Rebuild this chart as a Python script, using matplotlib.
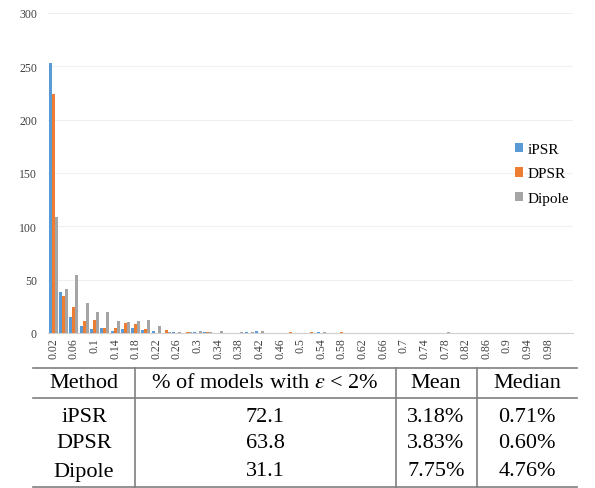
import numpy as np
import matplotlib
matplotlib.use("Agg")
import matplotlib.pyplot as plt

plt.rcParams['font.family'] = ['Liberation Serif', 'DejaVu Serif']
plt.rcParams['mathtext.fontset'] = 'stix'

# histogram bins (error upper bound)
bins = ["%g" % (0.02 * (i + 1)) for i in range(50)]

ipsr = [253, 38, 15, 7, 4, 5, 2, 4, 5, 3,
        2, 0, 1, 0, 1, 1, 0, 0, 0, 1,
        2, 0, 0, 0, 0, 0, 1, 0, 0, 0,
        0, 0, 0, 0, 0, 0, 0, 0, 0, 0,
        0, 0, 0, 0, 0, 0, 0, 0, 0, 0]
dpsr = [224, 35, 24, 11, 12, 5, 5, 9, 8, 4,
        0, 3, 0, 1, 0, 1, 0, 0, 0, 0,
        0, 0, 0, 1, 0, 1, 0, 0, 1, 0,
        0, 0, 0, 0, 0, 0, 0, 0, 0, 0,
        0, 0, 0, 0, 0, 0, 0, 0, 0, 0]
dipole = [109, 41, 54, 28, 20, 20, 11, 10, 11, 12,
          7, 1, 1, 1, 2, 1, 2, 0, 1, 1,
          2, 0, 0, 0, 0, 0, 1, 0, 0, 0,
          0, 0, 0, 0, 0, 0, 0, 0, 1, 0,
          0, 0, 0, 0, 0, 0, 0, 0, 0, 0]

series_names = ["iPSR", "DPSR", "Dipole"]
colors = ["#5B9BD5", "#ED7D31", "#A5A5A5"]

# table under the chart
tbl_header = ["Method", r"% of models with $\varepsilon$ < 2%", "Mean", "Median"]
tbl_method = ["iPSR", "DPSR", "Dipole"]
tbl_pct = ["72.1", "63.8", "31.1"]
tbl_mean = ["3.18%", "3.83%", "7.75%"]
tbl_median = ["0.71%", "0.60%", "4.76%"]

W, H = 595, 489
fig = plt.figure(figsize=(W / 100, H / 100), dpi=100)
ax = fig.add_axes([48 / W, 1 - 334 / H, (573 - 48) / W, (334 - 14) / H])

x = np.arange(len(bins))
bw = 0.29
for k, (vals, name, c) in enumerate(zip([ipsr, dpsr, dipole], series_names, colors)):
    ax.bar(x + (k - 1) * bw, vals, bw, color=c, label=name, zorder=3)

ax.set_ylim(0, 300)
ax.set_xlim(-0.5, len(bins) + 0.4)
ax.set_yticks(range(0, 301, 50))
ax.set_xticks(x[::2])
ax.set_xticklabels(bins[::2], rotation=90)
ax.tick_params(axis='both', length=0, labelsize=8.5, colors="#404040")
ax.tick_params(axis='y', pad=8)
ax.tick_params(axis='x', pad=3)
ax.grid(axis='y', color="#EFEFEF", lw=0.8, zorder=0)
for s in ["top", "right", "left"]:
    ax.spines[s].set_visible(False)
ax.spines["bottom"].set_color("#D0D0D0")

ax.legend(loc="upper left", bbox_to_anchor=(515 / W, 1 - 144 / H),
          bbox_transform=fig.transFigure, frameon=False, fontsize=11,
          handlelength=0.55, handleheight=0.55, handletextpad=0.3,
          labelspacing=0.75, borderpad=0, borderaxespad=0)

# table drawn in pixel coords
tab = fig.add_axes([0, 0, 1, 1], zorder=5)
tab.set_xlim(0, W)
tab.set_ylim(H, 0)
tab.axis("off")
tab.patch.set_alpha(0)

lc = "#7F7F7F"
left, right = 33, 577
top, mid, bot = 369, 399, 488
for yy in [top, mid, bot]:
    tab.plot([left, right], [yy, yy], color=lc, lw=1.2, clip_on=False)
for xx in [135, 396, 477]:
    tab.plot([xx, xx], [top, bot], color=lc, lw=1.2, clip_on=False)

col_x = [84, 265, 436, 527]
fs = 16
for cx, txt in zip(col_x, tbl_header):
    tab.text(cx, 384, txt, ha="center", va="center", fontsize=fs)
for i, ry in enumerate([417, 444, 472]):
    row = [tbl_method[i], tbl_pct[i], tbl_mean[i], tbl_median[i]]
    for cx, txt in zip(col_x, row):
        tab.text(cx, ry, txt, ha="center", va="center", fontsize=fs)

fig.savefig("out.png", dpi=100)
